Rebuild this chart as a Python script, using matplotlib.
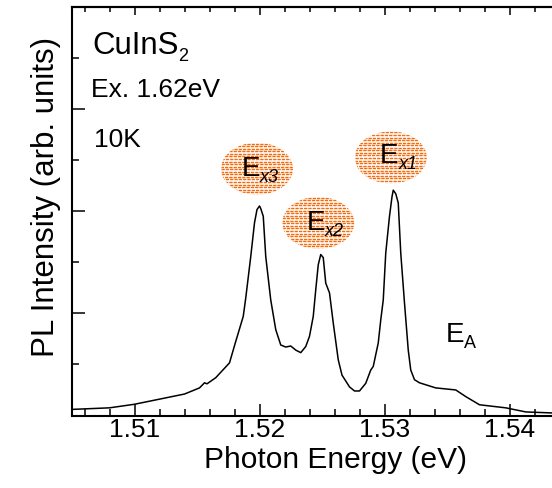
import numpy as np
import matplotlib
matplotlib.use("Agg")
import matplotlib.pyplot as plt
from matplotlib.patches import Ellipse
from matplotlib.ticker import MultipleLocator

plt.rcParams["font.family"] = ["Liberation Sans", "DejaVu Sans"]

# PL spectrum of CuInS2 at 10 K (photon energy in eV, intensity in arb. units)
energy = [1.50506, 1.5080, 1.5100, 1.5120, 1.5140, 1.5152, 1.5156, 1.5158,
          1.5165, 1.5176, 1.5181, 1.5187, 1.5189, 1.5193, 1.5196, 1.5198,
          1.5200, 1.5201, 1.5203, 1.5205, 1.5209, 1.5213, 1.5217, 1.5221,
          1.5225, 1.5229, 1.5233, 1.5237, 1.5240, 1.5243, 1.5245, 1.5247,
          1.5249, 1.5251, 1.5253, 1.5256, 1.5259, 1.5263, 1.5266, 1.5272,
          1.5276, 1.5280, 1.5285, 1.5289, 1.5291, 1.5295, 1.5297, 1.5299,
          1.5301, 1.5304, 1.5306, 1.5307, 1.5309, 1.5311, 1.5313, 1.5316,
          1.5319, 1.5321, 1.5324, 1.5328, 1.5341, 1.5357, 1.5365, 1.5376,
          1.5397, 1.5413, 1.5434, 1.5450]
intensity = [0.12, 0.15, 0.22, 0.32, 0.42, 0.54, 0.64, 0.62,
             0.74, 1.03, 1.45, 1.94, 2.30, 3.11, 3.77, 4.03,
             4.10, 4.05, 3.90, 3.11, 2.26, 1.68, 1.38, 1.34,
             1.36, 1.28, 1.23, 1.35, 1.55, 1.94, 2.46, 2.95,
             3.15, 3.09, 2.59, 2.40, 1.81, 1.09, 0.79, 0.56,
             0.48, 0.48, 0.63, 0.89, 0.96, 1.42, 1.87, 2.26,
             3.18, 3.90, 4.28, 4.41, 4.34, 4.16, 3.18, 2.20,
             1.28, 0.89, 0.70, 0.64, 0.54, 0.50, 0.37, 0.21,
             0.15, 0.07, 0.05, 0.04]

# exciton labels and the blobs behind them
exciton_names = ["E", "E", "E"]
exciton_subs = ["x3", "x2", "x1"]
exciton_label_x = [1.51854, 1.52374, 1.52960]
exciton_label_y = [4.68, 3.63, 4.945]
blob_x = [1.5198, 1.5247, 1.5305]
blob_y = [4.83, 3.77, 5.05]

xticks = [1.51, 1.52, 1.53, 1.54]
xtick_labels = ["1.51", "1.52", "1.53", "1.54"]

fig = plt.figure(figsize=(5.52, 4.88), dpi=100)
ax = fig.add_axes([72 / 552, 72.5 / 488, 500 / 552, 408.8 / 488])

ax.plot(energy, intensity, color="black", lw=1.1, zorder=3)

ax.set_xlim(1.505, 1.545)
ax.set_ylim(0, 8)

# spines
for side in ("left", "bottom", "top"):
    ax.spines[side].set_linewidth(1.5)
ax.spines["right"].set_visible(False)

# ticks
ax.set_xticks(xticks)
ax.set_xticklabels(xtick_labels)
ax.xaxis.set_minor_locator(MultipleLocator(0.002))
ax.yaxis.set_major_locator(MultipleLocator(2))
ax.yaxis.set_minor_locator(MultipleLocator(1))
ax.tick_params(axis="x", which="major", direction="in", length=8.6, width=1.1,
               labelsize=19, pad=2, top=False)
ax.tick_params(axis="x", which="minor", direction="in", length=5, width=1.1, top=False)
ax.tick_params(axis="y", which="major", direction="in", length=9, width=1.1,
               labelleft=False, right=False)
ax.tick_params(axis="y", which="minor", direction="in", length=5, width=1.1, right=False)

top = ax.secondary_xaxis("top")
top.set_xticks(xticks)
top.xaxis.set_minor_locator(MultipleLocator(0.002))
top.tick_params(which="major", direction="in", length=5.8, width=1.1, labeltop=False)
top.tick_params(which="minor", direction="in", length=3.6, width=1.1)
top.spines["top"].set_linewidth(1.5)

ax.set_xlabel("Photon Energy (eV)", fontsize=21.5)
ax.xaxis.set_label_coords(0.528, -0.075)
ax.set_ylabel("PL Intensity (arb. units)", fontsize=22.5)
ax.yaxis.set_label_coords(-0.022, 0.534)


def label_with_sub(x, y, main, sub, size, subsize, style="normal", dx=0.5, dy=0.0):
    t = ax.text(x, y, main, fontsize=size, va="baseline", ha="left", zorder=6)
    ax.annotate(sub, xy=(1, 0), xycoords=t, xytext=(dx, dy),
                textcoords="offset points", fontsize=subsize, style=style,
                va="baseline", ha="left", zorder=6)
    return t


# dotted orange blobs behind the exciton labels
blob_w, blob_h = 0.00576, 1.02
row_step = 0.05
for cx, cy in zip(blob_x, blob_y):
    ell = Ellipse((cx, cy), blob_w, blob_h, facecolor="none", edgecolor="none")
    ax.add_patch(ell)
    for i, yy in enumerate(np.arange(cy - blob_h / 2, cy + blob_h / 2, row_step)):
        ln, = ax.plot([cx - blob_w / 2, cx + blob_w / 2], [yy, yy],
                      color="#F56A0A", lw=1.0, ls=(0.6 * (i % 2), (2.4, 0.7)),
                      zorder=2, solid_capstyle="butt", dash_capstyle="butt")
        ln.set_clip_path(ell)

for name, sub, lx, ly in zip(exciton_names, exciton_subs, exciton_label_x, exciton_label_y):
    label_with_sub(lx, ly, name, sub, 20, 13, style="italic", dx=0.3)

label_with_sub(1.53488, 1.447, "E", "A", 20, 13, dx=0.3)

# sample description
label_with_sub(1.50664, 7.07, "CuInS", "2", 22.5, 13, dx=-0.3)
ax.text(1.50654, 6.23, "Ex. 1.62eV", fontsize=19, va="baseline", ha="left")
ax.text(1.5068, 5.245, "10K", fontsize=19, va="baseline", ha="left")

fig.savefig("out.png", dpi=100)
